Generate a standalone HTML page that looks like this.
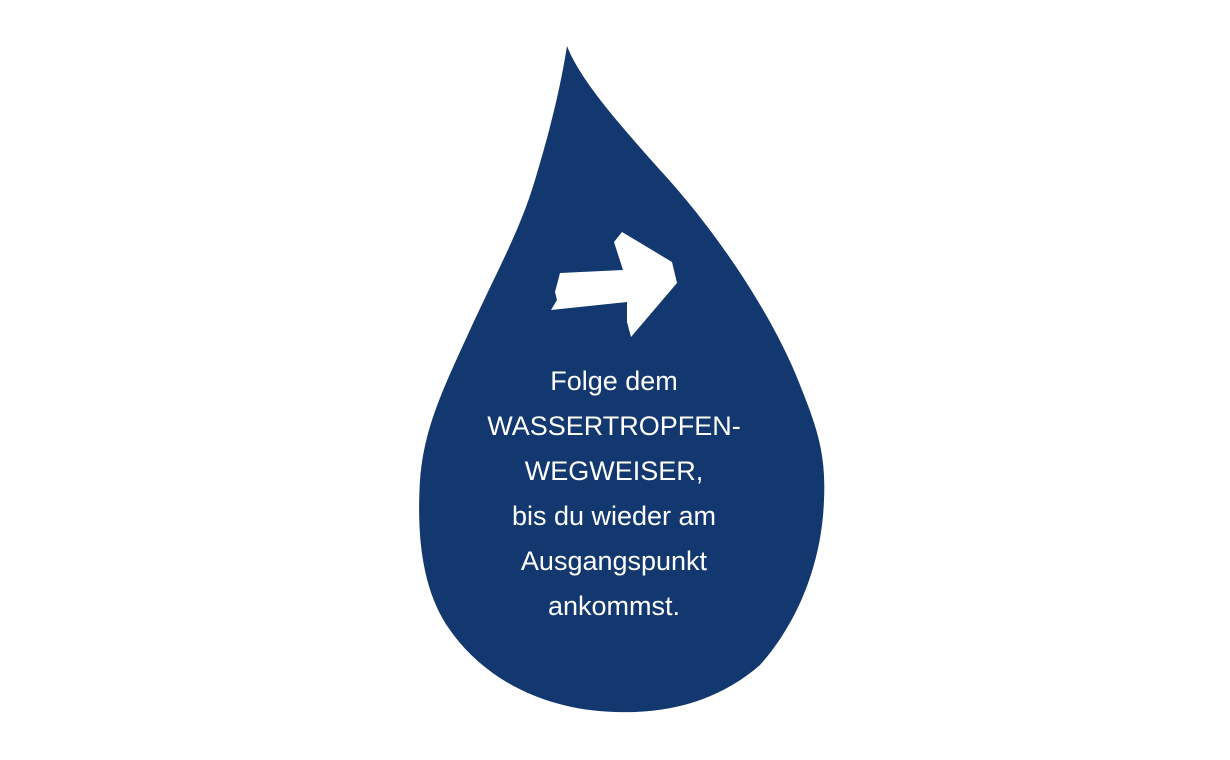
<!DOCTYPE html>
<html><head><style>
html,body{margin:0;padding:0;background:#fff;width:1230px;height:760px;overflow:hidden}
svg{position:absolute;left:0;top:0}
.t{position:absolute;left:414px;width:400px;text-align:center;color:#fff;font-family:"Liberation Sans",sans-serif;font-size:27px;line-height:45px;top:359px}
</style></head><body>
<svg width="1230" height="760">
<path fill="#12386f" d="M567,46 C580,80 620,125 660,170 C720,235 775,320 800,385 C818,430 826,455 824,500 C822,560 800,620 760,665 C720,700 670,714 615,712 C545,710 485,680 450,630 C425,595 416,545 420,480 C424,430 440,395 470,330 C500,265 520,230 535,180 C550,130 560,90 567,46 Z"/>
<path fill="#fff" d="M560,273 L623,270 L614,242 L622,232 L672,262 L677,283 L631,337 L627,322 L627,302 L551,310 L557,300 L555,292 Z"/>
</svg>
<div class="t">Folge dem<br>WASSERTROPFEN-<br>WEGWEISER,<br>bis du wieder am<br>Ausgangspunkt<br>ankommst.</div>
</body></html>
